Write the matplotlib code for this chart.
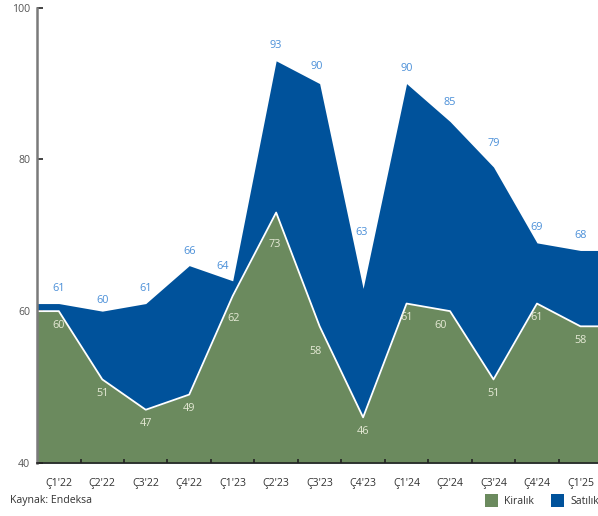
import matplotlib.pyplot as plt
import numpy as np

plt.rcParams['font.family'] = ['Open Sans', 'DejaVu Sans']

quarters = ["Ç1'22", "Ç2'22", "Ç3'22", "Ç4'22", "Ç1'23", "Ç2'23", "Ç3'23",
            "Ç4'23", "Ç1'24", "Ç2'24", "Ç3'24", "Ç4'24", "Ç1'25"]
satilik = [61, 60, 61, 66, 64, 93, 90, 63, 90, 85, 79, 69, 68]
kiralik = [60, 51, 47, 49, 62, 73, 58, 46, 61, 60, 51, 61, 58]

green = '#6b8a5e'
blue = '#00529b'

# label nudges in points (dx, dy) where the default spot collides with the areas
blue_nudge = {1: (0, -3), 3: (0, -1), 4: (-7, -1), 6: (-2, 1),
              7: (-1, 29), 9: (0, 3), 10: (0, 6)}
green_nudge = {4: (1, -6), 5: (-1, -13), 6: (-3, -8), 9: (-7, 0)}

x = np.arange(len(quarters))
# extend the first and last values flat out to the plot edges
xe = np.concatenate(([-0.5], x, [len(x) - 0.5]))
se = np.concatenate(([satilik[0]], satilik, [satilik[-1]]))
ke = np.concatenate(([kiralik[0]], kiralik, [kiralik[-1]]))

fig = plt.figure(figsize=(5.98, 5.16), dpi=100)
ax = fig.add_axes([0.062, 0.103, 0.945, 0.882])

ax.fill_between(xe, 40, se, color=blue, linewidth=0, label='Satılık')
ax.fill_between(xe, 40, ke, color=green, linewidth=0, label='Kiralık')
ax.plot(xe, ke, color='white', linewidth=1.3)

for i, v in enumerate(satilik):
    dx, dy = blue_nudge.get(i, (0, 0))
    ax.annotate(str(v), (x[i], v), xytext=(dx, 11 + dy),
                textcoords='offset points', ha='center', va='center',
                fontsize=7.8, color='#4a8fd8')
for i, v in enumerate(kiralik):
    dx, dy = green_nudge.get(i, (0, 0))
    ax.annotate(str(v), (x[i], v), xytext=(dx, -10 + dy),
                textcoords='offset points', ha='center', va='center',
                fontsize=7.8, color='#e6ead6')

ax.set_xlim(-0.5, len(x) - 0.5)
ax.set_ylim(40, 100)
ax.set_yticks([40, 60, 80, 100])
ax.set_xticks(x)
ax.set_xticklabels(quarters)
ax.set_xticks(x[:-1] + 0.5, minor=True)
ax.tick_params(axis='x', which='major', length=0, pad=11, labelsize=7.6,
               labelcolor='#333333')
ax.tick_params(axis='x', which='minor', length=3, width=1.2, direction='in',
               color='#222222')
ax.tick_params(axis='y', length=4, width=1.2, direction='in', color='#222222',
               labelsize=7.6, labelcolor='#555555', pad=5)

for s in ['top', 'right']:
    ax.spines[s].set_visible(False)
ax.spines['left'].set_color('#7a7a7a')
ax.spines['left'].set_linewidth(1.8)
ax.spines['bottom'].set_color('#222222')
ax.spines['bottom'].set_linewidth(1.2)

fig.text(0.017, 0.030, 'Kaynak: Endeksa', fontsize=7.6, color='#333333',
         va='center')

handles, labels = ax.get_legend_handles_labels()
fig.legend(handles[::-1], labels[::-1], loc='center left',
           bbox_to_anchor=(0.802, 0.030), ncol=2, frameon=False, fontsize=7.6,
           handlelength=1.25, handleheight=1.45, columnspacing=1.6,
           handletextpad=0.6, borderpad=0, labelcolor='#333333')

fig.savefig('out.png', dpi=100)
